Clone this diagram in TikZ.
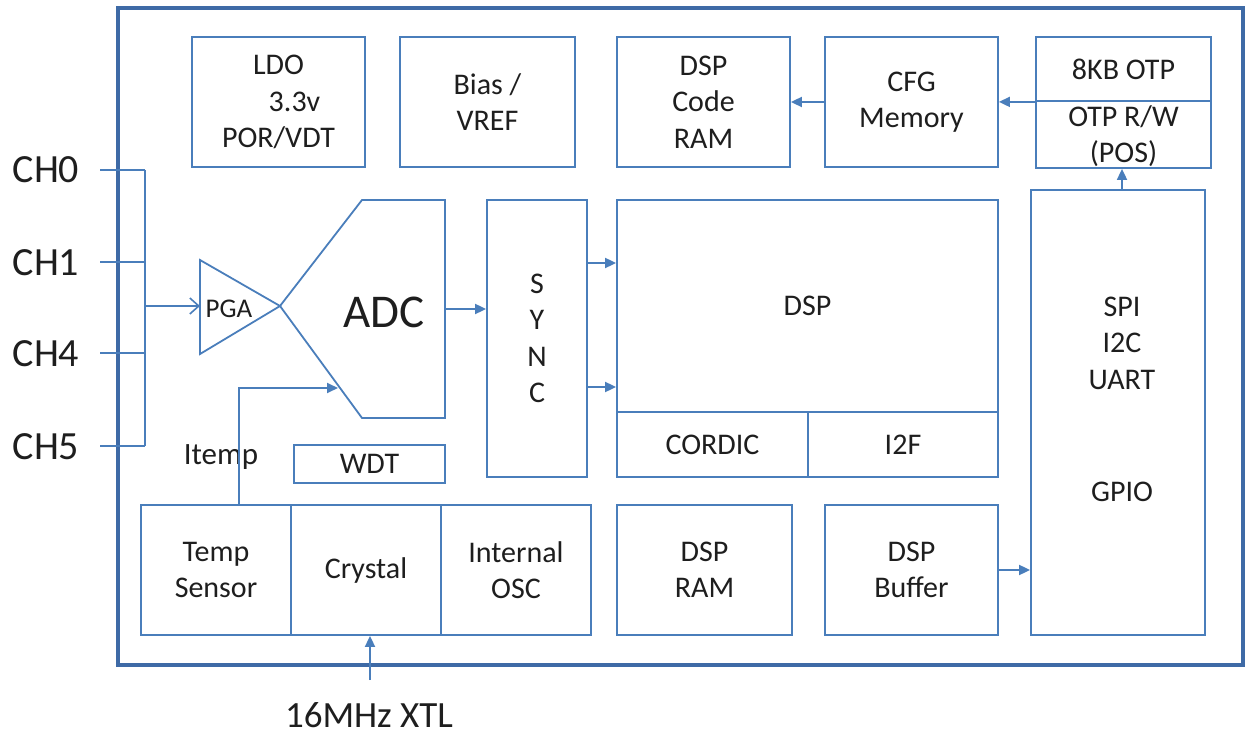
\documentclass[tikz,border=0pt]{standalone}
\usepackage{fontspec}
\setmainfont{Carlito}
\usetikzlibrary{arrows.meta,calc}
\definecolor{ln}{RGB}{74,126,187}
\definecolor{fr}{RGB}{62,106,166}
\definecolor{tx}{RGB}{30,30,30}
\tikzset{
  blk/.style={draw=ln,line width=1.8pt,rectangle,inner sep=0pt,align=center,text=tx,
    font=\fontsize{30}{36.5}\selectfont},
  lbl/.style={inner sep=0pt,align=center,text=tx,font=\fontsize{30}{36.5}\selectfont},
  chl/.style={inner sep=0pt,text=tx,font=\fontsize{40}{42}\selectfont},
  wire/.style={draw=ln,line width=1.8pt},
  arr/.style={wire,-{Triangle[length=11pt,width=10pt]}},
  oarr/.style={wire,-{Straight Barb[length=9pt,width=16pt,line width=1.6pt]}},
}
\begin{document}
\begin{tikzpicture}[x=1pt,y=-1pt]
\useasboundingbox (0,0) rectangle (1245,735);
% outer frame
\draw[fr,line width=3.5pt] (118,8) rectangle (1243,665);
% top row
\node[blk,minimum width=173pt,minimum height=130pt] (ldo) at (278.5,102) {LDO\\\hspace*{32pt}3.3v\\POR/VDT};
\node[blk,minimum width=175pt,minimum height=130pt] (bias) at (487.5,102) {Bias /\\VREF};
\node[blk,minimum width=173pt,minimum height=130pt] (dcram) at (703.5,102) {DSP\\Code\\RAM};
\node[blk,minimum width=173pt,minimum height=130pt] (cfg) at (911.5,102) {CFG\\Memory};
\node[blk,minimum width=175pt,minimum height=64pt] (otptop) at (1123.5,69) {8KB OTP};
\node[blk,minimum width=175pt,minimum height=67pt] (otpbot) at (1123.5,134.5) {};
\node[lbl] (otptxt) at (1123.5,136) {OTP R/W\\(POS)};
% channels
\node[chl] (ch0) at (46,170) {CH0};
\node[chl] (ch1) at (46,263) {CH1};
\node[chl] (ch4) at (46,354) {CH4};
\node[chl] (ch5) at (46,447) {CH5};
\coordinate (c0) at (100,170); \coordinate (j0) at (145,170);
\coordinate (c1) at (100,262); \coordinate (j1) at (145,262);
\coordinate (c4) at (100,353); \coordinate (j4) at (145,353);
\coordinate (c5) at (100,446); \coordinate (j5) at (145,446);
\coordinate (jm) at (145,306);
\draw[wire] (c0) -- (j0) (c1) -- (j1) (c4) -- (j4) (c5) -- (j5);
\draw[wire] (j0) -- (j5);
% PGA
\draw[wire] (200,260) -- (280,306) -- (200,354) -- cycle;
\coordinate (pgain) at (200,306);
\node[lbl,font=\fontsize{27}{30}\selectfont] (pga) at (229,309) {PGA};
\draw[oarr] (jm) -- (pgain);
% ADC
\draw[wire,line join=miter] (280,306) -- (362,200) -- (445,200) -- (445,418) -- (362,418) -- cycle;
\node[lbl,font=\fontsize{47}{50}\selectfont] (adc) at (384,312) {ADC};
\coordinate (adcout) at (445,309);
\coordinate (adcin) at (338,388);
% WDT
\node[blk,minimum width=151pt,minimum height=38pt] (wdt) at (369.5,464) {WDT};
% SYNC
\node[blk,minimum width=100pt,minimum height=277pt] (sync) at (537,338.5) {S\\Y\\N\\C};
% DSP
\node[blk,minimum width=381pt,minimum height=212pt] (dsp) at (807.5,306) {DSP};
\node[blk,minimum width=191pt,minimum height=65pt] (cordic) at (712.5,444.5) {CORDIC};
\node[blk,minimum width=190pt,minimum height=65pt] (i2f) at (903,444.5) {I2F};
% SPI
\node[blk,minimum width=174pt,minimum height=445pt] (spi) at (1118,412.5) {};
\node[lbl] (spitxt) at (1122,343) {SPI\\I2C\\UART};
\node[lbl] (gpio) at (1122,492) {GPIO};
% bottom row
\node[blk,minimum width=150pt,minimum height=130pt] (temp) at (216,570) {Temp\\Sensor};
\node[blk,minimum width=150pt,minimum height=130pt] (crystal) at (366,570) {Crystal};
\node[blk,minimum width=150pt,minimum height=130pt] (iosc) at (516,570) {Internal\\OSC};
\node[blk,minimum width=175pt,minimum height=130pt] (dram) at (704.5,570) {DSP\\RAM};
\node[blk,minimum width=173pt,minimum height=130pt] (dbuf) at (911.5,570) {DSP\\Buffer};
% labels
\node[lbl,font=\fontsize{31}{36}\selectfont] (itemp) at (221,457) {Itemp};
\node[lbl,font=\fontsize{37}{40}\selectfont] (xtl) at (369,715) {16MHz XTL};
\coordinate (xin) at (370,680);
% connectors
\draw[arr] ([xshift=23pt]temp.north) |- (adcin);
\draw[arr] (adcout) -- (adcout -| sync.west);
\draw[arr] ([yshift=75.5pt]sync.east) coordinate (s1) -- (s1 -| dsp.west);
\draw[arr] ([yshift=-48.5pt]sync.east) coordinate (s2) -- (s2 -| dsp.west);
\draw[arr] (otptop.south west) -- (cfg.east |- otptop.south west);
\draw[arr] (cfg.west) -- (dcram.east);
\draw[arr] ([xshift=-1.5pt]otpbot.south |- spi.north) -- ([xshift=-1.5pt]otpbot.south);
\draw[arr] (dbuf.east) -- (dbuf.east -| spi.west);
\draw[arr] (xin) -- (xin |- crystal.south);
\end{tikzpicture}
\end{document}
